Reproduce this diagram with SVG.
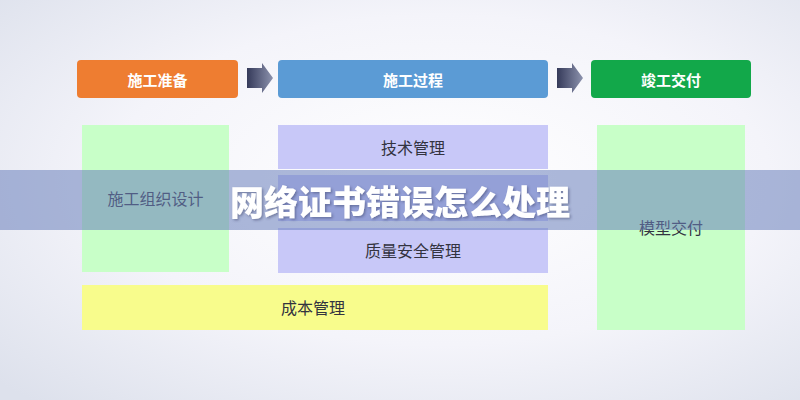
<svg xmlns="http://www.w3.org/2000/svg" width="800" height="400" viewBox="0 0 800 400">
<defs>
<radialGradient id="bg" cx="0.55" cy="0.45" r="0.75">
<stop offset="0" stop-color="#ffffff"/>
<stop offset="0.55" stop-color="#f4f4fa"/>
<stop offset="1" stop-color="#dde1ec"/>
</radialGradient>
<linearGradient id="arr" x1="0" y1="0" x2="1" y2="0">
<stop offset="0" stop-color="#353a5a"/>
<stop offset="1" stop-color="#8c92ad"/>
</linearGradient>
<filter id="sh" x="-10%" y="-30%" width="120%" height="160%">
<feDropShadow dx="1.5" dy="1.5" stdDeviation="1.2" flood-color="#303860" flood-opacity="0.45"/>
</filter>
<style>
.hd{font-family:"Noto Sans CJK SC","Noto Sans",sans-serif;font-size:15px;font-weight:bold;fill:#ffffff;text-anchor:middle;dominant-baseline:central}
.lb{font-family:"Noto Sans CJK SC","Noto Sans",sans-serif;font-size:16px;fill:#333340;text-anchor:middle;dominant-baseline:central}
.title{font-family:"Noto Sans CJK SC","Noto Sans",sans-serif;font-size:34px;font-weight:900;fill:#ffffff;text-anchor:middle;dominant-baseline:central}
</style>
</defs>
<rect width="800" height="400" fill="url(#bg)"/>
<g id="connectors">
<path d="M247,68 H262 V63 L273,78 L262,93 V88 H247 Z" fill="url(#arr)"/>
<path d="M557,68 H572 V63 L583,78 L572,93 V88 H557 Z" fill="url(#arr)"/>
</g>
<g id="prep">
<rect x="77" y="60" width="161" height="38" rx="4" fill="#ee7d31"/>
<text class="hd" x="157.5" y="79">施工准备</text>
</g>
<g id="process">
<rect x="278" y="60" width="270" height="38" rx="4" fill="#5b9bd5"/>
<text class="hd" x="413" y="79">施工过程</text>
</g>
<g id="delivery">
<rect x="591" y="60" width="160" height="38" rx="4" fill="#12a84a"/>
<text class="hd" x="671" y="79">竣工交付</text>
</g>
<g id="design">
<rect x="82" y="125" width="147" height="147" fill="#c8ffc8"/>
<text class="lb" x="155.5" y="198">施工组织设计</text>
</g>
<g id="tech">
<rect x="278" y="125" width="270" height="44" fill="#c8c8f8"/>
<text class="lb" x="413" y="147">技术管理</text>
</g>
<g id="middle">
<rect x="278" y="175" width="270" height="46" fill="#c8c8f8"/>
</g>
<g id="quality">
<rect x="278" y="228" width="270" height="45" fill="#c8c8f8"/>
<text class="lb" x="413" y="250">质量安全管理</text>
</g>
<g id="cost">
<rect x="82" y="285" width="466" height="45" fill="#f8fc8c"/>
<text class="lb" x="313" y="307">成本管理</text>
</g>
<g id="model">
<rect x="597" y="125" width="148" height="205" fill="#c8ffc8"/>
<text class="lb" x="671" y="227">模型交付</text>
</g>
<g id="banner">
<rect x="0" y="170" width="800" height="60" fill="#6a80bc" fill-opacity="0.55"/>
<text class="title" x="400" y="200" filter="url(#sh)">网络证书错误怎么处理</text>
</g>
</svg>
